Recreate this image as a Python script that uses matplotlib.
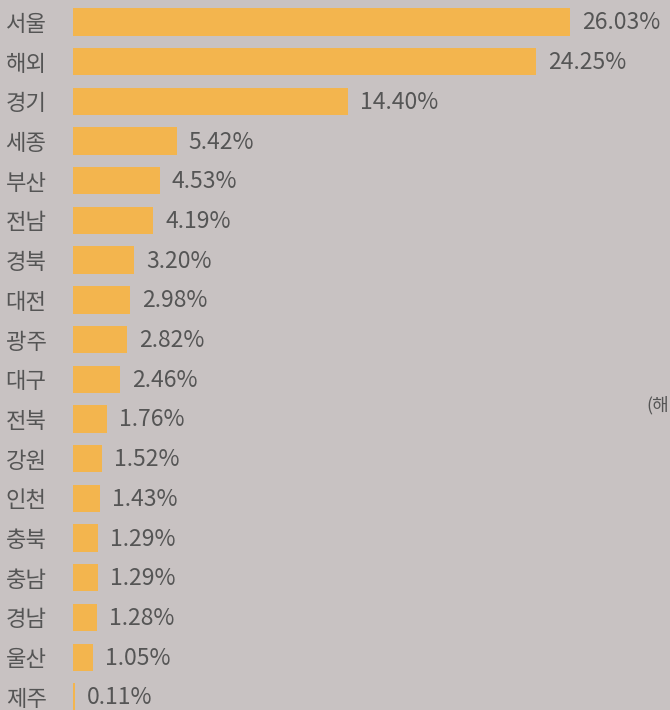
import matplotlib.pyplot as plt
from matplotlib.transforms import offset_copy

plt.rcParams['font.family'] = ['Noto Sans CJK KR', 'DejaVu Sans']

regions = ['서울', '해외', '경기', '세종', '부산', '전남', '경북', '대전', '광주',
           '대구', '전북', '강원', '인천', '충북', '충남', '경남', '울산', '제주']
shares = [26.03, 24.25, 14.40, 5.42, 4.53, 4.19, 3.20, 2.98, 2.82,
          2.46, 1.76, 1.52, 1.43, 1.29, 1.29, 1.28, 1.05, 0.11]

bg = '#c8c2c2'
bar_color = '#f3b54e'
text_color = '#555555'

fig = plt.figure(figsize=(6.7, 7.1), dpi=100, facecolor=bg)
ax = fig.add_axes([73 / 670, 0, 597 / 670, 1])
ax.set_facecolor(bg)

y = list(range(len(regions)))
ax.barh(y, shares, height=0.69, color=bar_color)

# 라벨 (막대 끝 + 12px)
lab_tr = offset_copy(ax.transData, fig=fig, x=12, y=-1, units='dots')
for i, v in enumerate(shares):
    ax.text(v, i, f'{v:.2f}%', transform=lab_tr, ha='left', va='center',
            fontsize=16.5, color=text_color, fontweight='light')

ax.set_xlim(0, 597 / 19.1)
ax.set_ylim(17.33, -0.554)
ax.set_yticks(y)
ax.set_yticklabels(regions, fontsize=16, color=text_color, fontweight='light')
ax.tick_params(axis='y', length=0, pad=19)
ax.set_xticks([])
for s in ax.spines.values():
    s.set_visible(False)

fig.text(669 / 670, 1 - 405 / 710, '(해', ha='right', va='center',
         fontsize=13, color=text_color, fontweight='light')

fig.savefig('out.png', dpi=100, facecolor=bg)
